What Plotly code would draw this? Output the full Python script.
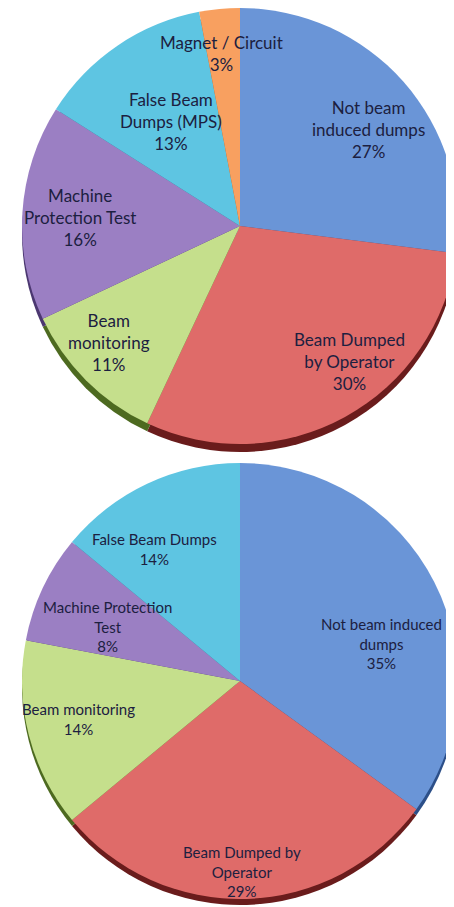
import math
import plotly.graph_objects as go

# ---------------- data ----------------
top_labels = ["Not beam induced dumps", "Beam Dumped by Operator", "Beam monitoring",
              "Machine Protection Test", "False Beam Dumps (MPS)", "Magnet / Circuit"]
top_text = ["Not beam<br>induced dumps", "Beam Dumped<br>by Operator", "Beam<br>monitoring",
            "Machine<br>Protection Test", "False Beam<br>Dumps (MPS)", "Magnet / Circuit"]
top_values = [27, 30, 11, 16, 13, 3]

bot_labels = ["Not beam induced dumps", "Beam Dumped by Operator", "Beam monitoring",
              "Machine Protection Test", "False Beam Dumps"]
bot_text = ["Not beam induced<br>dumps", "Beam Dumped by<br>Operator", "Beam monitoring",
            "Machine Protection<br>Test", "False Beam Dumps"]
bot_values = [35, 29, 14, 8, 14]

# ---------------- style ----------------
W, H = 454, 907
OFF = 8  # default page body margin: figure pixel = screen pixel - OFF
face = {"Not beam induced dumps": "#6a95d7", "Beam Dumped by Operator": "#df6b69",
        "Beam monitoring": "#c5df8c", "Machine Protection Test": "#9b7fc3",
        "False Beam Dumps (MPS)": "#5ec5e2", "False Beam Dumps": "#5ec5e2",
        "Magnet / Circuit": "#f8a060"}
side = {"Not beam induced dumps": "#2c4f88", "Beam Dumped by Operator": "#6a1c1c",
        "Beam monitoring": "#4d6a20", "Machine Protection Test": "#4b3770",
        "False Beam Dumps (MPS)": "#2a7890", "False Beam Dumps": "#2a7890",
        "Magnet / Circuit": "#a05a20"}
TXT = "#1c2040"
FONT = "Lato"

# label placement: (angle offset from slice bisector in deg, radial fraction)
top_lab_pos = [(4.5, 0.735), (-10, 0.80), (3.2, 0.805), (-0.4, 0.735), (0.6, 0.573), (-0.8, 0.794)]
bot_lab_pos = [(12.3, 0.669), (1.2, 0.872), (1.2, 0.763), (-2.6, 0.656), (-7.6, 0.72)]

# pie geometry in screen pixels
pies = [
    dict(labels=top_labels, text=top_text, values=top_values, cx=240, cy=226, r=218,
         depth=8, fsize=17, lab_pos=top_lab_pos),
    dict(labels=bot_labels, text=bot_text, values=bot_values, cx=240, cy=681, r=218,
         depth=6, fsize=15, lab_pos=bot_lab_pos),
]

fig = go.Figure()
annotations = []

for p in pies:
    cx, cy, r = p["cx"] - OFF, p["cy"] - OFF, p["r"]
    for dy, cols in [(p["depth"], side), (0, face)]:
        x0, x1 = (cx - r) / W, (cx + r) / W
        y0, y1 = 1 - (cy + dy + r) / H, 1 - (cy + dy - r) / H
        fig.add_trace(go.Pie(
            labels=p["labels"], values=p["values"], sort=False,
            direction="clockwise", rotation=0,
            marker=dict(colors=[cols[l] for l in p["labels"]],
                        line=dict(width=0)),
            textinfo="none", hoverinfo="label+percent", showlegend=False,
            domain=dict(x=[max(0, x0), min(1, x1)], y=[max(0, y0), min(1, y1)]),
        ))
    total = sum(p["values"])
    cum = 0
    for lab, txt, v, (off, frac) in zip(p["labels"], p["text"], p["values"], p["lab_pos"]):
        mid = (cum + v / 2) / total * 360 + off
        cum += v
        a = math.radians(mid)
        px = cx + frac * r * math.sin(a)
        py = cy - frac * r * math.cos(a)
        pct = round(v / total * 100)
        annotations.append(dict(
            x=px / W, y=1 - py / H, xref="paper", yref="paper",
            text=f"{txt}<br>{pct}%", showarrow=False, align="center",
            font=dict(family=FONT, size=p["fsize"], color=TXT),
            xanchor="center", yanchor="middle",
        ))

fig.update_layout(
    width=W, height=H, margin=dict(l=0, r=0, t=0, b=0),
    paper_bgcolor="white", plot_bgcolor="white",
    annotations=annotations,
)
fig.write_html("out.html")
